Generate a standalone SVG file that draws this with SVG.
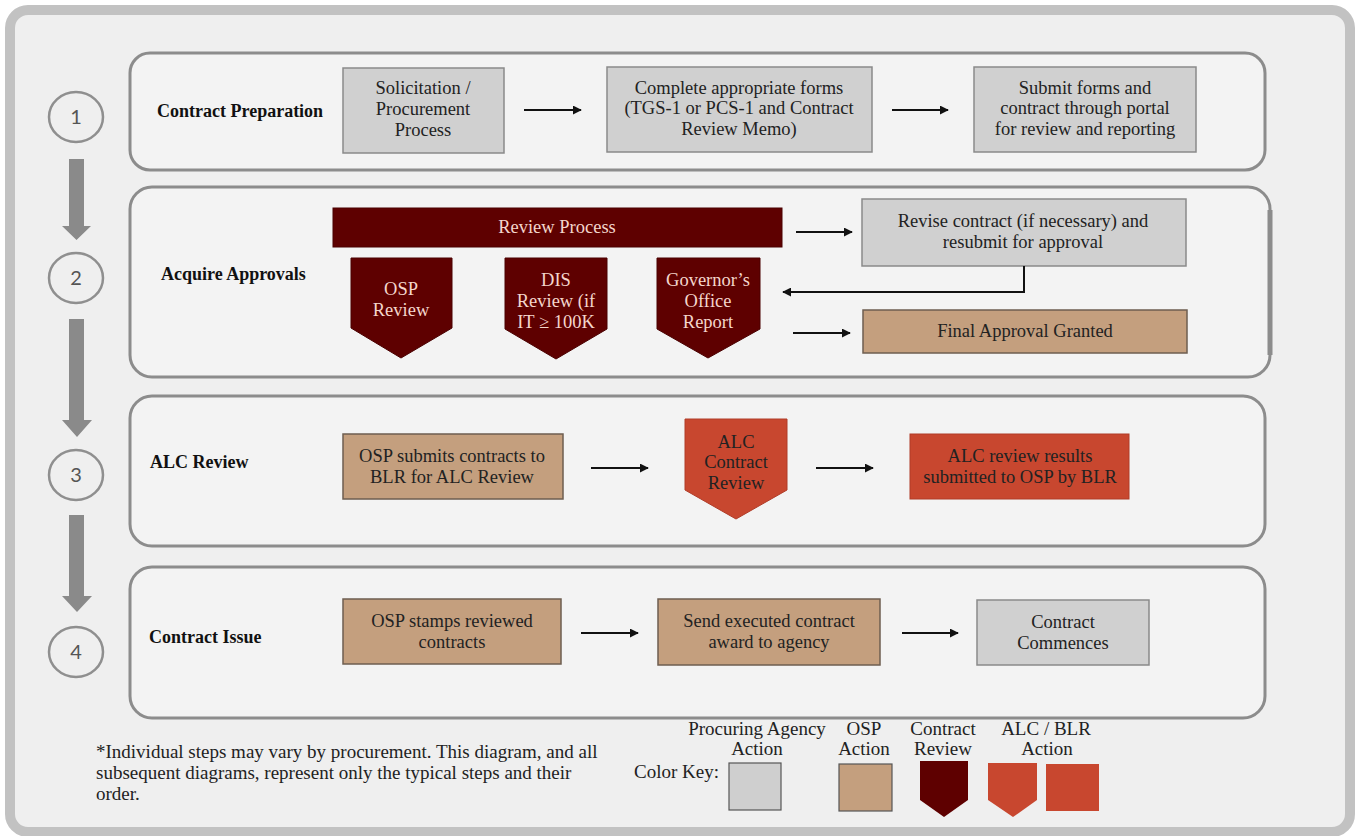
<svg xmlns="http://www.w3.org/2000/svg" width="1355" height="836" viewBox="0 0 1355 836">
<style>
.frame{fill:#efefef;stroke:#c2c2c2;stroke-width:10}
.panel{fill:#f3f3f3;stroke:#8c8c8c;stroke-width:3}
.step{fill:none;stroke:#8f8f8f;stroke-width:2.5}
.num{font-family:Lato,"Open Sans","Liberation Sans",sans-serif;font-size:20px;fill:#555;text-anchor:middle}
.bigarrow{fill:#8a8a8a}
.lbl{font-family:"Liberation Serif",serif;font-weight:bold;font-size:18px;fill:#111}
.t{font-family:"Liberation Serif",serif;font-size:18.5px;fill:#222;text-anchor:middle}
.tw{font-family:"Liberation Serif",serif;font-size:18.5px;fill:#f4d6cc;text-anchor:middle}
.gray{fill:#d0d0d0;stroke:#8a8a8a;stroke-width:1.5}
.tan{fill:#c49f7e;stroke:#6e5e50;stroke-width:1.5}
.dark{fill:#5e0000;stroke:#4a0000;stroke-width:1}
.red{fill:#c8472f;stroke:#b03c28;stroke-width:1}
.conn{fill:none;stroke:#111;stroke-width:2;marker-end:url(#ah)}
.note{font-family:"Liberation Serif",serif;font-size:19px;fill:#222}
.key{font-family:"Liberation Serif",serif;font-size:19px;fill:#222;text-anchor:middle}
</style>
<defs>
<marker id="ah" viewBox="0 0 10 10" refX="9" refY="5" markerWidth="4.5" markerHeight="4.5" orient="auto" markerUnits="strokeWidth"><path d="M0,0 L10,5 L0,10 z" fill="#111"/></marker>
</defs>
<rect x="0" y="0" width="1355" height="836" fill="#ffffff"/>
<rect class="frame" x="10" y="10" width="1340" height="822" rx="18"/>

<!-- step indicators -->
<g id="steps">
<g id="step1"><ellipse class="step" cx="76" cy="117" rx="27" ry="25"/><text class="num" x="76" y="124">1</text></g>
<g id="step2"><ellipse class="step" cx="76" cy="278" rx="27" ry="25"/><text class="num" x="76" y="285">2</text></g>
<g id="step3"><ellipse class="step" cx="76" cy="475" rx="27" ry="25"/><text class="num" x="76" y="482">3</text></g>
<g id="step4"><ellipse class="step" cx="76" cy="652" rx="27" ry="25"/><text class="num" x="76" y="659">4</text></g>
<polygon class="bigarrow" points="69,159 84,159 84,226 91,226 76.5,240 62,226 69,226"/>
<polygon class="bigarrow" points="69,319 84,319 84,420 92,420 77,437 62,420 69,420"/>
<polygon class="bigarrow" points="69,515 84,515 84,596 92,596 77,612 62,596 69,596"/>
</g>

<!-- panels -->
<g id="panel1"><rect class="panel" x="130" y="53" width="1135" height="117" rx="20"/><text class="lbl" x="157" y="117">Contract Preparation</text></g>
<g id="panel2"><rect class="panel" x="130" y="187" width="1140" height="190" rx="22"/><line x1="1270" y1="210" x2="1270" y2="355" stroke="#8c8c8c" stroke-width="5"/><text class="lbl" x="161" y="280">Acquire Approvals</text></g>
<g id="panel3"><rect class="panel" x="130" y="396" width="1135" height="150" rx="22"/><text class="lbl" x="150" y="468">ALC Review</text></g>
<g id="panel4"><rect class="panel" x="130" y="567" width="1135" height="151" rx="22"/><text class="lbl" x="149" y="643">Contract Issue</text></g>

<!-- nodes panel 1 -->
<g id="solicitation"><rect class="gray" x="343" y="68" width="161" height="85"/>
<text class="t" x="423" y="94">Solicitation /</text><text class="t" x="423" y="115">Procurement</text><text class="t" x="423" y="136">Process</text></g>
<g id="complete-forms"><rect class="gray" x="607" y="67" width="265" height="85"/>
<text class="t" x="739" y="94">Complete appropriate forms</text><text class="t" x="739" y="114">(TGS-1 or PCS-1 and Contract</text><text class="t" x="739" y="135">Review Memo)</text></g>
<g id="submit-forms"><rect class="gray" x="974" y="67" width="222" height="85"/>
<text class="t" x="1085" y="94">Submit forms and</text><text class="t" x="1085" y="114">contract through portal</text><text class="t" x="1085" y="135">for review and reporting</text></g>

<!-- nodes panel 2 -->
<g id="review-process"><rect class="dark" x="333" y="208" width="449" height="39"/><text class="tw" x="557" y="233">Review Process</text></g>
<g id="osp-review"><polygon class="dark" points="351,258 452,258 452,328 401,358 351,328"/>
<text class="tw" x="401" y="295">OSP</text><text class="tw" x="401" y="316">Review</text></g>
<g id="dis-review"><polygon class="dark" points="505,258 607,258 607,329 556,359 505,329"/>
<text class="tw" x="556" y="286">DIS</text><text class="tw" x="556" y="307">Review (if</text><text class="tw" x="556" y="328">IT ≥ 100K</text></g>
<g id="governor-report"><polygon class="dark" points="657,258 760,258 760,329 708,358 657,329"/>
<text class="tw" x="708" y="286">Governor’s</text><text class="tw" x="708" y="307">Office</text><text class="tw" x="708" y="328">Report</text></g>
<g id="revise"><rect class="gray" x="862" y="199" width="324" height="67"/>
<text class="t" x="1023" y="227">Revise contract (if necessary) and</text><text class="t" x="1023" y="248">resubmit for approval</text></g>
<g id="final-approval"><rect class="tan" x="863" y="310" width="324" height="43"/><text class="t" x="1025" y="337">Final Approval Granted</text></g>

<!-- nodes panel 3 -->
<g id="osp-submits"><rect class="tan" x="343" y="434" width="220" height="65"/>
<text class="t" x="452" y="462">OSP submits contracts to</text><text class="t" x="452" y="483">BLR for ALC Review</text></g>
<g id="alc-contract-review"><polygon class="red" points="685,419 787,419 787,490 736,519 685,490"/>
<text class="t" x="736" y="448">ALC</text><text class="t" x="736" y="468">Contract</text><text class="t" x="736" y="489">Review</text></g>
<g id="alc-results"><rect class="red" x="910" y="434" width="219" height="65"/>
<text class="t" x="1020" y="462">ALC review results</text><text class="t" x="1020" y="483">submitted to OSP by BLR</text></g>

<!-- nodes panel 4 -->
<g id="osp-stamps"><rect class="tan" x="343" y="599" width="218" height="65"/>
<text class="t" x="452" y="627">OSP stamps reviewed</text><text class="t" x="452" y="648">contracts</text></g>
<g id="send-executed"><rect class="tan" x="658" y="599" width="222" height="66"/>
<text class="t" x="769" y="627">Send executed contract</text><text class="t" x="769" y="648">award to agency</text></g>
<g id="contract-commences"><rect class="gray" x="977" y="600" width="172" height="65"/>
<text class="t" x="1063" y="628">Contract</text><text class="t" x="1063" y="649">Commences</text></g>

<!-- connectors -->
<g id="connectors">
<line class="conn" x1="524" y1="110" x2="581" y2="110"/>
<line class="conn" x1="892" y1="110" x2="948" y2="110"/>
<line class="conn" x1="796" y1="232" x2="852" y2="232"/>
<polyline class="conn" points="1024,266 1024,292 783,292"/>
<line class="conn" x1="793" y1="333" x2="850" y2="333"/>
<line class="conn" x1="591" y1="468" x2="648" y2="468"/>
<line class="conn" x1="816" y1="468" x2="873" y2="468"/>
<line class="conn" x1="581" y1="633" x2="638" y2="633"/>
<line class="conn" x1="902" y1="633" x2="958" y2="633"/>
</g>

<!-- footnote -->
<g id="footnote">
<text class="note" x="96" y="758">*Individual steps may vary by procurement. This diagram, and all</text>
<text class="note" x="96" y="779">subsequent diagrams, represent only the typical steps and their</text>
<text class="note" x="96" y="800">order.</text>
</g>

<!-- color key -->
<g id="color-key">
<text class="note" x="634" y="778">Color Key:</text>
<text class="key" x="757" y="735">Procuring Agency</text><text class="key" x="757" y="755">Action</text>
<rect x="729" y="763" width="52" height="47" fill="#cfcfcf" stroke="#555" stroke-width="1.2"/>
<text class="key" x="864" y="735">OSP</text><text class="key" x="864" y="755">Action</text>
<rect x="839" y="764" width="53" height="47" fill="#c49f7e" stroke="#555" stroke-width="1.2"/>
<text class="key" x="943" y="735">Contract</text><text class="key" x="943" y="755">Review</text>
<polygon points="920,761 968,761 968,800 944,817 920,800" fill="#5e0000"/>
<text class="key" x="1046" y="735">ALC / BLR</text><text class="key" x="1047" y="755">Action</text>
<polygon points="988,763 1037,763 1037,800 1013,817 988,800" fill="#c8472f"/>
<rect x="1046" y="764" width="53" height="47" fill="#c8472f"/>
</g>
</svg>
